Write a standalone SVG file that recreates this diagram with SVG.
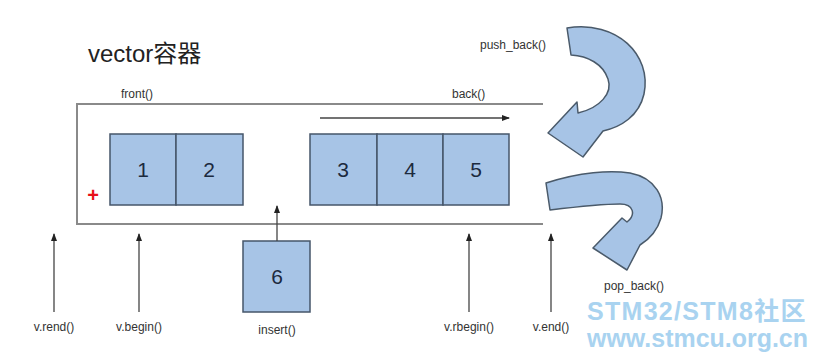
<svg xmlns="http://www.w3.org/2000/svg" width="817" height="358" viewBox="0 0 817 358">
<style>
text{font-family:"Liberation Sans",Arial,sans-serif}
.lbl{font-size:12px;fill:#333}
.num{font-size:21px;fill:#1c2a3e;text-anchor:middle}
.cell{fill:#a7c4e6;stroke:#46566a;stroke-width:1.5}
.frame{fill:none;stroke:#8a8a8a;stroke-width:2}
.ar{stroke:#444;stroke-width:1.3;fill:none;marker-end:url(#ah)}
.big{fill:#a7c4e6;stroke:#4a5a6a;stroke-width:1.5;stroke-linejoin:round}
.wm{font-weight:bold;fill:#a9d3f0}
</style>
<defs>
<marker id="ah" markerWidth="8" markerHeight="8" refX="7" refY="4" orient="auto" markerUnits="userSpaceOnUse">
<path d="M0,1 L8,4 L0,7 Z" fill="#222"/>
</marker>
</defs>
<rect width="817" height="358" fill="#fff"/>
<text x="88" y="62" font-size="24" fill="#222">vector<tspan font-family="'Noto Sans CJK SC',sans-serif">容器</tspan></text>
<g id="container">
<path class="frame" d="M543,104 H77 V224 H543"/>
<text class="lbl" x="121" y="98">front()</text>
<text class="lbl" x="452" y="98">back()</text>
<text x="93" y="202" font-size="20" fill="#e8101a" text-anchor="middle" font-weight="bold">+</text>
</g>
<g id="cell1"><rect class="cell" x="110" y="134" width="66" height="71"/><text class="num" x="143" y="177">1</text></g>
<g id="cell2"><rect class="cell" x="176" y="134" width="67" height="71"/><text class="num" x="209" y="177">2</text></g>
<g id="cell3"><rect class="cell" x="310" y="134" width="67" height="71"/><text class="num" x="343" y="177">3</text></g>
<g id="cell4"><rect class="cell" x="377" y="134" width="66" height="71"/><text class="num" x="410" y="177">4</text></g>
<g id="cell5"><rect class="cell" x="443" y="134" width="66" height="71"/><text class="num" x="476" y="177">5</text></g>
<g id="cell6"><rect class="cell" x="243" y="241" width="67" height="71"/><text class="num" x="277" y="284">6</text><text class="lbl" x="277" y="334" text-anchor="middle">insert()</text></g>
<g id="push_back">
<path class="big" d="M567,28 C617,20 652,55 644,94 C639,116 621,127 603,131 L583,157 L548,133 L577,102 L578,113 C600,108 613,93 608,79 C603,64 588,56 571,55 Z"/>
<text class="lbl" x="480" y="49">push_back()</text>
</g>
<g id="pop_back">
<path class="big" d="M546,183 C580,172 610,170 630,173 C656,178 666,198 661,218 C657,232 648,240 640,245 L627,270 L593,248 L622,218 L627,222 C636,215 634,204 620,204 C600,204 575,207 550,210 Z"/>
<text class="lbl" x="604" y="290">pop_back()</text>
</g>
<g id="connectors">
<path class="ar" d="M320,118 H509"/>
<path class="ar" d="M277,241 V206"/>
<path class="ar" d="M54,312 V234"/>
<path class="ar" d="M139,312 V234"/>
<path class="ar" d="M469,312 V234"/>
<path class="ar" d="M551,312 V234"/>
</g>
<g id="labels">
<text class="lbl" x="54" y="331" text-anchor="middle">v.rend()</text>
<text class="lbl" x="139" y="331" text-anchor="middle">v.begin()</text>
<text class="lbl" x="469" y="331" text-anchor="middle">v.rbegin()</text>
<text class="lbl" x="551" y="331" text-anchor="middle">v.end()</text>
</g>
<g id="watermark">
<text class="wm" x="587" y="320" font-size="25" letter-spacing="1.3">STM32/STM8<tspan font-family="'Noto Sans CJK SC',sans-serif">社区</tspan></text>
<text class="wm" x="587" y="347" font-size="25" textLength="221" lengthAdjust="spacingAndGlyphs">www.stmcu.org.cn</text>
</g>
</svg>
